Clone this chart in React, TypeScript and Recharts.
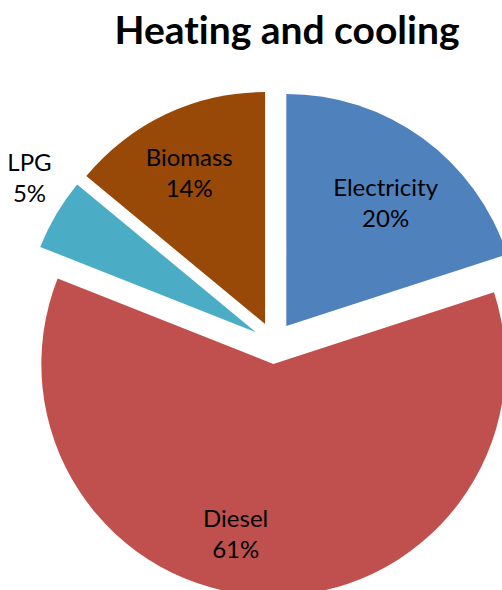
import React from "react";
import { PieChart, Pie, Cell, Sector } from "recharts";

// Heating and cooling energy mix, in percent
const categories = ["Electricity", "Diesel", "LPG", "Biomass"];
const shares = [20, 61, 5, 14];
const colors = ["#4F81BD", "#C0504D", "#4BACC6", "#984807"];

const data = categories.map((name, i) => ({ name, value: shares[i] }));

const RADIAN = Math.PI / 180;
const EXPLODE = 21;
const FONT = "Lato, 'Open Sans', sans-serif";

// label placement: fraction of radius from the slice tip, plus small angle nudge (deg, clockwise)
const labelLayout: Record<string, { r: number; nudge: number }> = {
  Electricity: { r: 0.68, nudge: 3 },
  Diesel: { r: 0.75, nudge: 10.7 },
  LPG: { r: 1.18, nudge: 3.6 },
  Biomass: { r: 0.73, nudge: -1.4 },
};

const shift = (midAngle: number, d: number) => ({
  dx: d * Math.cos(-midAngle * RADIAN),
  dy: d * Math.sin(-midAngle * RADIAN),
});

const ExplodedSlice = (props: any) => {
  const { cx, cy, midAngle } = props;
  const { dx, dy } = shift(midAngle, EXPLODE);
  return <Sector {...props} cx={cx + dx} cy={cy + dy} stroke="none" />;
};

const SliceLabel = (props: any) => {
  const { cx, cy, midAngle, outerRadius, name, percent } = props;
  const { dx, dy } = shift(midAngle, EXPLODE);
  const lay = labelLayout[name] || { r: 0.7, nudge: 0 };
  const a = midAngle - lay.nudge;
  const x = cx + dx + outerRadius * lay.r * Math.cos(-a * RADIAN);
  const y = cy + dy + outerRadius * lay.r * Math.sin(-a * RADIAN);
  return (
    <text
      x={x}
      y={y}
      textAnchor="middle"
      fill="#000"
      style={{ fontFamily: FONT, fontSize: 24, fontVariantLigatures: "none" }}
    >
      <tspan x={x} dy={-7}>
        {name}
      </tspan>
      <tspan x={x} dy={31}>
        {Math.round(percent * 100)}%
      </tspan>
    </text>
  );
};

export default function App() {
  return (
    <div
      style={{
        position: "absolute",
        left: 0,
        top: 0,
        width: 502,
        height: 590,
        background: "#fff",
        overflow: "hidden",
      }}
    >
      <div
        style={{
          position: "absolute",
          left: 0,
          width: 574,
          top: 0,
          textAlign: "center",
          fontFamily: FONT,
          fontWeight: 700,
          fontSize: 39,
          lineHeight: "58px",
          color: "#000",
          fontVariantLigatures: "none",
          zIndex: 1,
        }}
      >
        Heating and cooling
      </div>
      <PieChart width={502} height={590} margin={{ top: 0, right: 0, bottom: 0, left: 0 }}>
        <Pie
          data={data}
          dataKey="value"
          nameKey="name"
          cx={274}
          cy={343}
          outerRadius={232}
          startAngle={90}
          endAngle={-270}
          shape={ExplodedSlice}
          label={SliceLabel}
          labelLine={false}
          isAnimationActive={false}
        >
          {data.map((d, i) => (
            <Cell key={d.name} fill={colors[i]} />
          ))}
        </Pie>
      </PieChart>
    </div>
  );
}
